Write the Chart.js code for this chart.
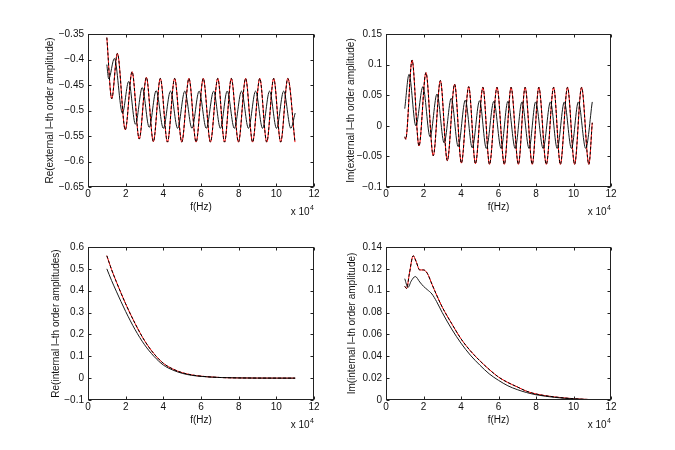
<!DOCTYPE html>
<html>
<head>
<meta charset="utf-8">
<script src="https://cdn.jsdelivr.net/npm/chart.js@4.4.1/dist/chart.umd.min.js"></script>
<style>
  html, body { margin: 0; padding: 0; background: #fff; }
  #wrap { position: relative; width: 675px; height: 450px; }
  #wrap canvas { position: absolute; }
</style>
</head>
<body>
<div id="wrap">
  <canvas id="cTL"></canvas>
  <canvas id="cTR"></canvas>
  <canvas id="cBL"></canvas>
  <canvas id="cBR"></canvas>
</div>
<script>
// frequency values are in units of 10^4 Hz (axis multiplier "x 10^4")
const xTicks = [0, 2, 4, 6, 8, 10, 12];
const tlTicks = [-0.65, -0.6, -0.55, -0.5, -0.45, -0.4, -0.35];
const trTicks = [-0.1, -0.05, 0, 0.05, 0.1, 0.15];
const blTicks = [-0.1, 0, 0.1, 0.2, 0.3, 0.4, 0.5, 0.6];
const brTicks = [0, 0.02, 0.04, 0.06, 0.08, 0.1, 0.12, 0.14];

// Re(external) - red / dashed black
const tlRedF = [1.00, 1.26, 1.56, 1.98, 2.34, 2.72, 3.10, 3.47, 3.84, 4.22, 4.60, 4.98, 5.36, 5.74,
  6.12, 6.50, 6.89, 7.25, 7.61, 7.99, 8.37, 8.74, 9.12, 9.49, 9.86, 10.23, 10.61, 10.99];
const tlRedV = [-0.357, -0.477, -0.388, -0.538, -0.424, -0.556, -0.435, -0.561, -0.437, -0.562, -0.437, -0.562, -0.437, -0.562,
  -0.437, -0.562, -0.437, -0.562, -0.437, -0.562, -0.437, -0.562, -0.437, -0.562, -0.437, -0.562, -0.437, -0.562];
// Re(external) - solid black
const tlBlkF = [1.00, 1.10, 1.40, 1.83, 2.16, 2.52, 2.88, 3.25, 3.62, 4.00, 4.38, 4.76, 5.14, 5.52, 5.90,
  6.28, 6.67, 7.03, 7.39, 7.77, 8.15, 8.52, 8.90, 9.27, 9.64, 10.01, 10.39, 10.77, 11.00];
const tlBlkV = [-0.410, -0.438, -0.398, -0.505, -0.443, -0.527, -0.455, -0.533, -0.461, -0.535, -0.462, -0.535, -0.462, -0.535, -0.462,
  -0.535, -0.462, -0.535, -0.462, -0.535, -0.462, -0.535, -0.462, -0.535, -0.462, -0.535, -0.462, -0.535, -0.505];

// Im(external) - red / dashed black
const trRedF = [1.00, 1.05, 1.39, 1.76, 2.13, 2.52, 2.90, 3.27, 3.66, 4.02, 4.41, 4.77, 5.17, 5.52, 5.92,
  6.31, 6.67, 7.06, 7.42, 7.80, 8.15, 8.55, 8.94, 9.30, 9.68, 10.06, 10.43, 10.82, 11.00];
const trRedV = [-0.018, -0.022, 0.1075, -0.033, 0.087, -0.049, 0.074, -0.057, 0.068, -0.061, 0.064, -0.062, 0.063, -0.063, 0.063,
  -0.063, 0.063, -0.063, 0.063, -0.063, 0.063, -0.063, 0.063, -0.063, 0.063, -0.063, 0.063, -0.063, 0.005];
// Im(external) - solid black
const trBlkF = [1.00, 1.23, 1.59, 1.97, 2.35, 2.72, 3.10, 3.48, 3.85, 4.23, 4.60, 4.99, 5.35, 5.75,
  6.14, 6.50, 6.89, 7.25, 7.63, 7.98, 8.38, 8.77, 9.13, 9.51, 9.89, 10.26, 10.65, 11.00];
const trBlkV = [0.028, 0.084, 0.000, 0.064, -0.018, 0.052, -0.028, 0.045, -0.034, 0.042, -0.036, 0.041, -0.037, 0.040,
  -0.037, 0.040, -0.037, 0.039, -0.037, 0.039, -0.037, 0.039, -0.037, 0.039, -0.037, 0.039, -0.037, 0.039];

// Re(internal)
const blF = [1.0, 1.25, 1.5, 2.0, 2.5, 3.0, 3.5, 4.0, 4.5, 5.0, 5.5, 6.0, 7.0, 8.0, 9.0, 10.0, 11.0];
const blRedV = [0.560, 0.497, 0.442, 0.340, 0.250, 0.172, 0.112, 0.068, 0.042, 0.025, 0.015, 0.009, 0.003, 0.001, 0.0003, 0.0001, 0.0];
const blBlkV = [0.500, 0.447, 0.398, 0.305, 0.222, 0.153, 0.100, 0.060, 0.037, 0.022, 0.013, 0.008, 0.003, 0.001, 0.0003, 0.0001, 0.0];

// Im(internal)
const brRedF = [1.0, 1.1, 1.25, 1.45, 1.6, 1.8, 2.0, 2.2, 2.45, 2.7, 3.0, 3.5, 4.0, 4.5, 5.0, 5.5, 6.0, 6.5, 7.0, 7.5, 8.0, 9.0, 10.0, 11.0];
const brRedV = [0.104, 0.102, 0.116, 0.132, 0.127, 0.119, 0.119, 0.116, 0.106, 0.096, 0.085, 0.070, 0.056, 0.045, 0.036, 0.028,
  0.021, 0.016, 0.012, 0.008, 0.0055, 0.0028, 0.0012, 0.0003];
const brBlkF = [1.0, 1.17, 1.35, 1.56, 1.8, 2.0, 2.2, 2.45, 2.7, 3.0, 3.5, 4.0, 4.5, 5.0, 5.5, 6.0, 6.5, 7.0, 7.5, 8.0, 9.0, 10.0, 11.0];
const brBlkV = [0.111, 0.103, 0.109, 0.113, 0.108, 0.104, 0.101, 0.097, 0.090, 0.080, 0.065, 0.052, 0.041, 0.032, 0.024, 0.018,
  0.013, 0.0095, 0.0068, 0.0048, 0.0024, 0.001, 0.0003];

const FONT = '"Liberation Sans", Arial, Helvetica, sans-serif';
Chart.defaults.font.family = FONT;
Chart.defaults.font.size = 10;
Chart.defaults.color = '#111';

const fmt = v => String(+v.toFixed(4)).replace('-', '\u2212');

// matlab-ish box, inward ticks on all sides, and the x10^4 multiplier
const boxPlugin = {
  id: 'matlabBox',
  afterDraw(chart) {
    const { ctx, chartArea: a, scales: { x, y } } = chart;
    const L = Math.round(a.left) + 0.5, R = Math.round(a.right) - 0.5;
    const T = Math.round(a.top) + 0.5, B = Math.round(a.bottom) - 0.5;
    ctx.save();
    ctx.strokeStyle = '#222';
    ctx.lineWidth = 1;
    ctx.strokeRect(L, T, R - L, B - T);
    ctx.beginPath();
    x.ticks.forEach(t => {
      const px = Math.round(x.getPixelForValue(t.value)) + 0.5;
      ctx.moveTo(px, B); ctx.lineTo(px, B - 3);
      ctx.moveTo(px, T); ctx.lineTo(px, T + 3);
    });
    y.ticks.forEach(t => {
      const py = Math.round(y.getPixelForValue(t.value)) + 0.5;
      ctx.moveTo(L, py); ctx.lineTo(L + 3, py);
      ctx.moveTo(R, py); ctx.lineTo(R - 3, py);
    });
    ctx.stroke();
    ctx.fillStyle = '#111';
    ctx.textBaseline = 'middle';
    ctx.textAlign = 'right';
    const yy = a.bottom + 25;
    ctx.font = '7px ' + FONT;
    ctx.fillText('4', a.right, yy - 4);
    const w4 = ctx.measureText('4').width;
    ctx.font = '10px ' + FONT;
    ctx.fillText('x 10', a.right - w4 - 0.5, yy);
    ctx.restore();
  }
};

function line(f, v, color, dash, order) {
  return {
    data: f.map((fx, i) => ({ x: fx, y: v[i] })),
    borderColor: color,
    borderWidth: 1,
    borderDash: dash,
    order: order,
    pointRadius: 0,
    fill: false,
    cubicInterpolationMode: 'monotone'
  };
}

function panel(id, box, area, yTicks, yTitle, yTitleX, datasets) {
  const el = document.getElementById(id);
  el.width = box.w; el.height = box.h;
  el.style.left = box.x + 'px'; el.style.top = box.y + 'px';
  const xAxisH = box.h - area.b;
  new Chart(el, {
    type: 'line',
    data: { datasets },
    options: {
      responsive: false,
      animation: false,
      layout: { padding: { left: 0, top: area.t, right: box.w - area.r, bottom: 0 } },
      plugins: { legend: { display: false }, tooltip: { enabled: false } },
      scales: {
        x: {
          type: 'linear', min: 0, max: 12,
          grid: { display: false, drawTicks: false },
          border: { display: false },
          afterBuildTicks: s => { s.ticks = xTicks.map(v => ({ value: v })); },
          afterFit: s => { s.height = xAxisH; },
          ticks: { padding: 1.5, maxRotation: 0, autoSkip: false, callback: v => String(v) },
          title: { display: true, text: 'f(Hz)', padding: { top: 0, bottom: xAxisH - 20.5 - 6 } }
        },
        y: {
          type: 'linear', min: yTicks[0], max: yTicks[yTicks.length - 1],
          grid: { display: false, drawTicks: false },
          border: { display: false },
          afterBuildTicks: s => { s.ticks = yTicks.map(v => ({ value: v })); },
          afterFit: s => { s.width = area.l; },
          ticks: { padding: 4, autoSkip: false, callback: fmt },
          title: { display: true, text: yTitle, padding: { top: yTitleX - 6, bottom: 0 } }
        }
      }
    },
    plugins: [boxPlugin]
  });
}

panel('cTL', { x: 0, y: 0, w: 337, h: 225 }, { l: 88, r: 314, t: 34, b: 187 }, tlTicks,
  'Re(external l\u2013th order amplitude)', 50, [
    line(tlRedF, tlRedV, '#ff0000', [], 3),
    line(tlBlkF, tlBlkV, '#1a1a1a', [], 2),
    line(tlRedF, tlRedV, '#000000', [3, 2], 1)
  ]);

panel('cTR', { x: 337, y: 0, w: 338, h: 225 }, { l: 49, r: 274, t: 34, b: 187 }, trTicks,
  'Im(external l\u2013th order amplitude)', 14, [
    line(trRedF, trRedV, '#ff0000', [], 3),
    line(trBlkF, trBlkV, '#1a1a1a', [], 2),
    line(trRedF, trRedV, '#000000', [3, 2], 1)
  ]);

panel('cBL', { x: 0, y: 225, w: 337, h: 225 }, { l: 88, r: 314, t: 22, b: 175 }, blTicks,
  'Re(internal l\u2013th order amplitudes)', 56, [
    line(blF, blRedV, '#ff0000', [], 3),
    line(blF, blBlkV, '#1a1a1a', [], 2),
    line(blF, blRedV, '#000000', [3, 2], 1)
  ]);

panel('cBR', { x: 337, y: 225, w: 338, h: 225 }, { l: 49, r: 274, t: 22, b: 175 }, brTicks,
  'Im(internal l\u2013th order amplitude)', 15, [
    line(brRedF, brRedV, '#ff0000', [], 3),
    line(brBlkF, brBlkV, '#1a1a1a', [], 2),
    line(brRedF, brRedV, '#000000', [3, 2], 1)
  ]);
</script>
</body>
</html>
